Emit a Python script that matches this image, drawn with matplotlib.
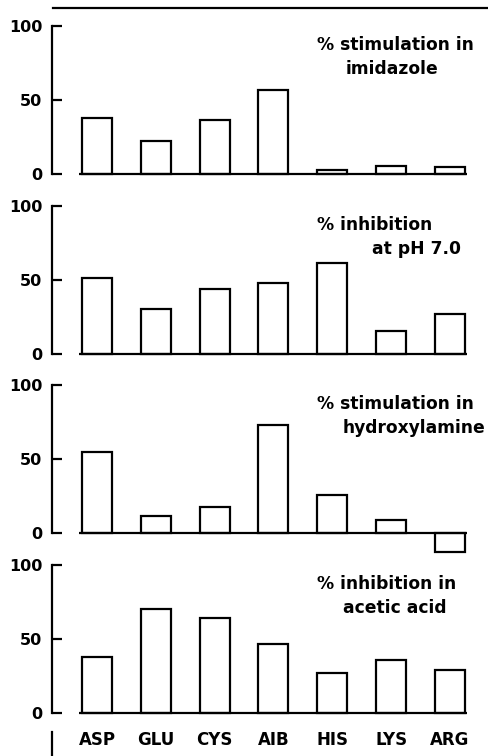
import matplotlib
matplotlib.use("Agg")
import matplotlib.pyplot as plt
from matplotlib.lines import Line2D

plt.rcParams["font.family"] = "DejaVu Sans"
plt.rcParams["font.weight"] = "bold"

amino_acids = ["ASP", "GLU", "CYS", "AIB", "HIS", "LYS", "ARG"]

stim_imidazole = [38, 22, 36.5, 57, 3, 5.4, 5]
inhib_ph7 = [51, 30, 44, 48, 61.5, 15.5, 26.5]
stim_hydroxylamine = [54.5, 11.5, 17.5, 73, 25.5, 9, -13]
inhib_acetic = [38, 70.5, 64.5, 46.5, 27, 36, 29]

panel_labels = [
    ("% stimulation in", "imidazole", 4.22),
    ("% inhibition", "at pH 7.0", 4.67),
    ("% stimulation in", "hydroxylamine", 4.18),
    ("% inhibition in", "acetic acid", 4.18),
]
series = [stim_imidazole, inhib_ph7, stim_hydroxylamine, inhib_acetic]

W, H = 489, 756
fig = plt.figure(figsize=(W / 100, H / 100), dpi=100)

# pixel layout
zero_px = [174, 353.7, 533, 713]
px_per_unit = 1.48
left_px, right_px = 52, 485
centre0, step = 97, 58.83
bar_w = 0.51
lw = 1.6

x = list(range(len(amino_acids)))
xlo = (left_px - centre0) / step
xhi = (right_px - centre0) / step

for i, (vals, (line1, line2, x2)) in enumerate(zip(series, panel_labels)):
    ymin = -3 if i == 3 else -15
    top_px = zero_px[i] - 100 * px_per_unit
    bot_px = zero_px[i] - ymin * px_per_unit
    ax = fig.add_axes([left_px / W, 1 - bot_px / H,
                       (right_px - left_px) / W, (bot_px - top_px) / H])
    ax.bar(x, vals, width=bar_w, facecolor="white", edgecolor="black",
           linewidth=lw)
    ax.hlines(0, -bar_w / 2 - 0.05, x[-1] + bar_w / 2 + 0.03,
              color="black", linewidth=lw)
    ax.set_xlim(xlo, xhi)
    ax.set_ylim(ymin, 100)

    for s in ["top", "right", "bottom"]:
        ax.spines[s].set_visible(False)
    ax.spines["left"].set_bounds(0, 100)
    ax.spines["left"].set_linewidth(lw)

    ax.set_yticks([0, 50, 100])
    ax.tick_params(axis="y", direction="in", length=7, width=lw, pad=7,
                   labelsize=11.5)
    ax.set_xticks(x)
    if i == 3:
        ax.set_xticklabels(amino_acids)
        ax.tick_params(axis="x", length=0, pad=10, labelsize=12)
    else:
        ax.tick_params(axis="x", length=0, labelbottom=False)

    ax.text(3.74, 83.5, line1, fontsize=12.3, ha="left", va="baseline")
    ax.text(x2, 67.5, line2, fontsize=12.3, ha="left", va="baseline")

# rule across the top and the short stub under the bottom panel
fig.add_artist(Line2D([53 / W, 487 / W], [1 - 8 / H, 1 - 8 / H],
                      color="black", linewidth=lw))
fig.add_artist(Line2D([left_px / W, left_px / W], [1 - 732 / H, 0],
                      color="black", linewidth=lw))

fig.savefig("out.png", dpi=100)
